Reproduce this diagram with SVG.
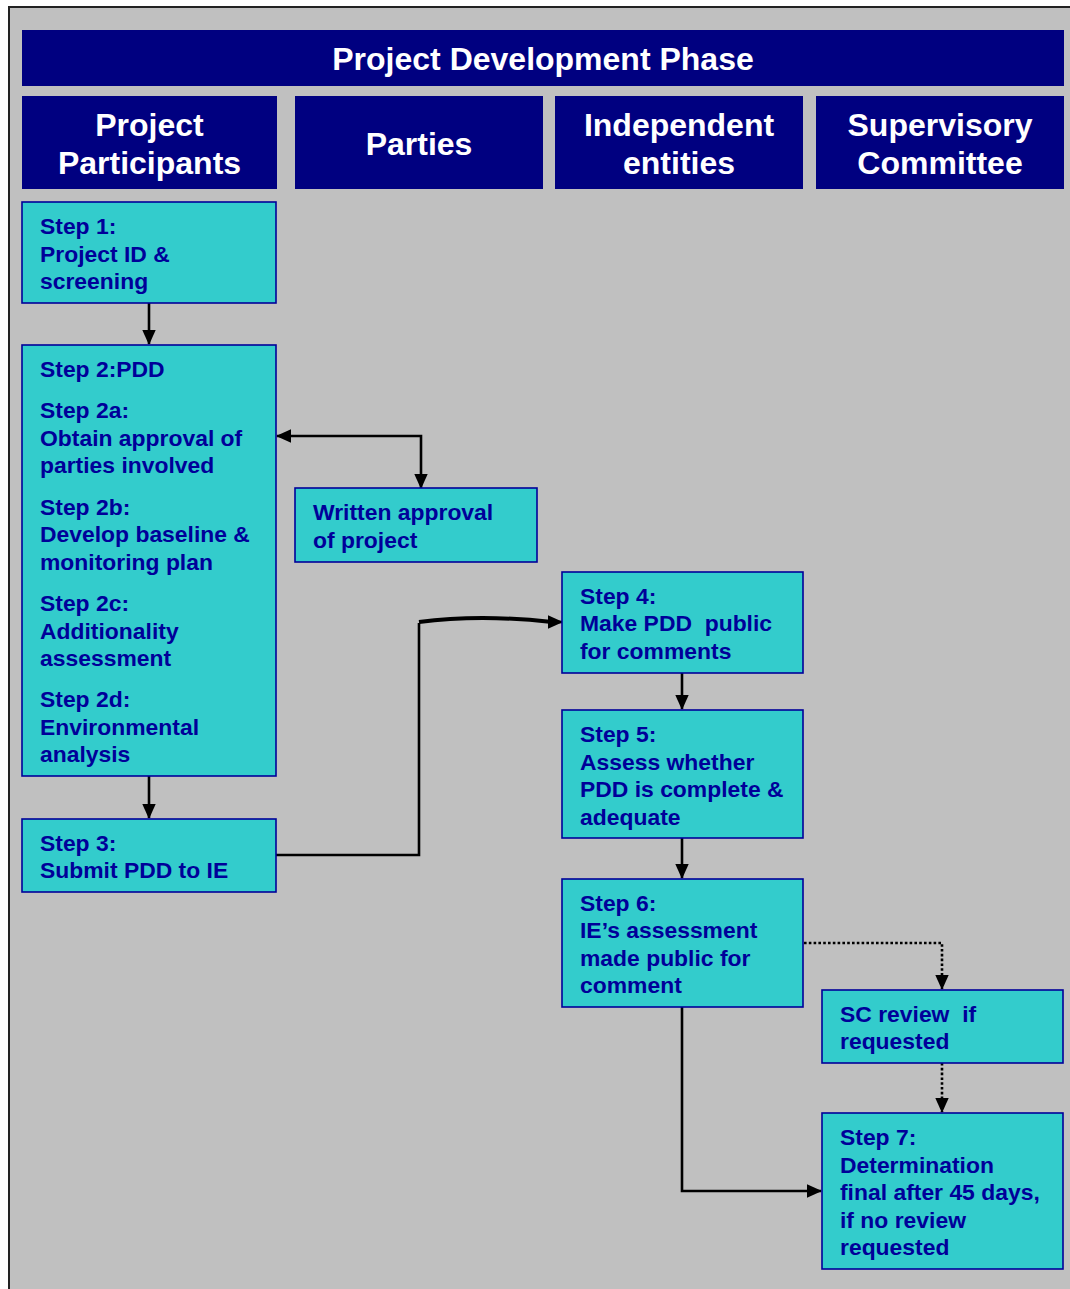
<svg xmlns="http://www.w3.org/2000/svg" width="1070" height="1289" viewBox="0 0 1070 1289">
<style>
.hdr{fill:#000080}
.ht{fill:#fff;font-family:"Liberation Sans",Arial,sans-serif;font-weight:bold;font-size:32px;text-anchor:middle}
.box{fill:#33CCCC;stroke:#000099;stroke-width:1.6}
.bt{fill:#000099;font-family:"Liberation Sans",Arial,sans-serif;font-weight:bold;font-size:22.9px}
.ln{fill:none;stroke:#000;stroke-width:2.6}
.dot{fill:none;stroke:#000;stroke-width:2.6;stroke-dasharray:2.6 2.2}
</style>
<defs>
<marker id="ah" markerUnits="userSpaceOnUse" markerWidth="15" markerHeight="15" viewBox="0 0 15 15" refX="14" refY="7.5" orient="auto-start-reverse">
<path d="M0,0.8 L15,7.5 L0,14.2 Z" fill="#000"/>
</marker>
</defs>
<rect x="9" y="7" width="1070" height="1290" fill="#C0C0C0" stroke="#222" stroke-width="2"/>
<g id="title"><rect class="hdr" x="22" y="30" width="1042" height="56"/><text class="ht" x="543" y="70">Project Development Phase</text></g>
<g id="h1"><rect class="hdr" x="22" y="96" width="255" height="93"/><text class="ht" x="149.5" y="136">Project</text><text class="ht" x="149.5" y="174">Participants</text></g>
<g id="h2"><rect class="hdr" x="295" y="96" width="248" height="93"/><text class="ht" x="419" y="155">Parties</text></g>
<g id="h3"><rect class="hdr" x="555" y="96" width="248" height="93"/><text class="ht" x="679" y="136">Independent</text><text class="ht" x="679" y="174">entities</text></g>
<g id="h4"><rect class="hdr" x="816" y="96" width="248" height="93"/><text class="ht" x="940" y="136">Supervisory</text><text class="ht" x="940" y="174">Committee</text></g>

<g id="connectors">
<path class="ln" d="M149,303 V344" marker-end="url(#ah)"/>
<path class="ln" d="M149,776 V818" marker-end="url(#ah)"/>
<path class="ln" d="M277,436 H421 V488" marker-start="url(#ah)" marker-end="url(#ah)"/>
<path class="ln" d="M276,855 H419 V623"/>
<path d="M419,622 Q480,614 552,622" fill="none" stroke="#000" stroke-width="4"/>
<path class="ln" d="M548,622 H562" marker-end="url(#ah)"/>
<path class="ln" d="M682,673 V709" marker-end="url(#ah)"/>
<path class="ln" d="M682,838 V878" marker-end="url(#ah)"/>
<path class="ln" d="M682,1007 V1191 H821" marker-end="url(#ah)"/>
<path class="dot" d="M804,943 H942 V989" marker-end="url(#ah)"/>
<path class="dot" d="M942,1063 V1112" marker-end="url(#ah)"/>
</g>

<g id="step1"><rect class="box" x="22" y="202" width="254" height="101"/>
<text class="bt" x="40" y="234">Step 1:</text><text class="bt" x="40" y="262">Project ID &amp;</text><text class="bt" x="40" y="289">screening</text></g>
<g id="step2"><rect class="box" x="22" y="345" width="254" height="431"/>
<text class="bt" x="40" y="377">Step 2:PDD</text>
<text class="bt" x="40" y="418">Step 2a:</text><text class="bt" x="40" y="446">Obtain approval of</text><text class="bt" x="40" y="473">parties involved</text>
<text class="bt" x="40" y="515">Step 2b:</text><text class="bt" x="40" y="542">Develop baseline &amp;</text><text class="bt" x="40" y="570">monitoring plan</text>
<text class="bt" x="40" y="611">Step 2c:</text><text class="bt" x="40" y="639">Additionality</text><text class="bt" x="40" y="666">assessment</text>
<text class="bt" x="40" y="707">Step 2d:</text><text class="bt" x="40" y="735">Environmental</text><text class="bt" x="40" y="762">analysis</text></g>
<g id="approval"><rect class="box" x="295" y="488" width="242" height="74"/>
<text class="bt" x="313" y="520">Written approval</text><text class="bt" x="313" y="548">of project</text></g>
<g id="step3"><rect class="box" x="22" y="819" width="254" height="73"/>
<text class="bt" x="40" y="851">Step 3:</text><text class="bt" x="40" y="878">Submit PDD to IE</text></g>
<g id="step4"><rect class="box" x="562" y="572" width="241" height="101"/>
<text class="bt" x="580" y="604">Step 4:</text><text class="bt" x="580" y="631" xml:space="preserve">Make PDD  public</text><text class="bt" x="580" y="659">for comments</text></g>
<g id="step5"><rect class="box" x="562" y="710" width="241" height="128"/>
<text class="bt" x="580" y="742">Step 5:</text><text class="bt" x="580" y="770">Assess whether</text><text class="bt" x="580" y="797">PDD is complete &amp;</text><text class="bt" x="580" y="825">adequate</text></g>
<g id="step6"><rect class="box" x="562" y="879" width="241" height="128"/>
<text class="bt" x="580" y="911">Step 6:</text><text class="bt" x="580" y="938">IE’s assessment</text><text class="bt" x="580" y="966">made public for</text><text class="bt" x="580" y="993">comment</text></g>
<g id="screview"><rect class="box" x="822" y="990" width="241" height="73"/>
<text class="bt" x="840" y="1022" xml:space="preserve">SC review  if</text><text class="bt" x="840" y="1049">requested</text></g>
<g id="step7"><rect class="box" x="822" y="1113" width="241" height="156"/>
<text class="bt" x="840" y="1145">Step 7:</text><text class="bt" x="840" y="1173">Determination</text><text class="bt" x="840" y="1200">final after 45 days,</text><text class="bt" x="840" y="1228">if no review</text><text class="bt" x="840" y="1255">requested</text></g>
</svg>
